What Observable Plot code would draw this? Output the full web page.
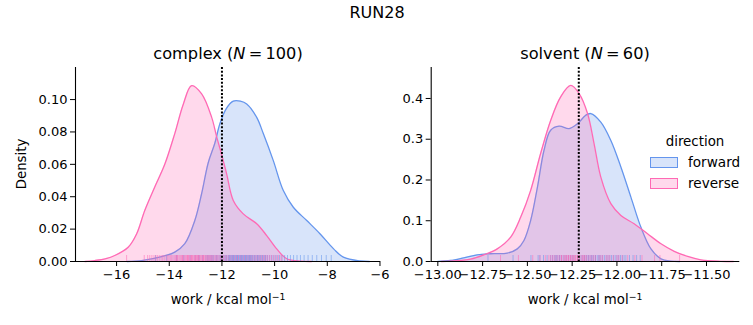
<!DOCTYPE html>
<html><head><meta charset="utf-8">
<script src="https://cdn.jsdelivr.net/npm/d3@7"></script>
<script src="https://cdn.jsdelivr.net/npm/@observablehq/plot@0.6"></script>
<style>
body{margin:0;background:#fff;font-family:"DejaVu Sans",sans-serif;color:#000;}
#root{position:relative;width:753px;height:325px;overflow:hidden;background:#fff;}
.t{position:absolute;white-space:nowrap;line-height:1;}
#root svg{position:absolute;top:0;overflow:visible;}
.patch{position:absolute;box-sizing:border-box;}
</style></head><body><div id="root"></div>
<script>
// ---------------- data ----------------
const suptitle = "RUN28";
const directions = ["forward", "reverse"];

// complex: KDE curves
const complexForwardX = [-15.6,-15.05,-14.29,-13.79,-13.41,-13.03,-12.77,-12.52,-12.27,-12.08,-11.85,-11.57,-11.3,-11.06,-10.68,-10.43,-10.05,-9.67,-9.29,-8.78,-8.27,-7.76,-7.39,-6.75,-6.4];
const complexForwardY = [0,0.0006,0.003,0.0058,0.011,0.0253,0.042,0.061,0.073,0.085,0.094,0.099,0.099,0.0973,0.089,0.079,0.0623,0.0438,0.0335,0.0253,0.017,0.0078,0.0027,0.0003,0];
const complexReverseX = [-17.2,-16.83,-16.4,-16.07,-15.56,-15.24,-14.93,-14.55,-14.17,-13.79,-13.47,-13.15,-12.77,-12.39,-12.2,-12.01,-11.82,-11.57,-11.19,-10.68,-10.3,-9.92,-9.54,-9.0,-8.6];
const complexReverseY = [0,0.0006,0.0018,0.0037,0.0088,0.017,0.0315,0.046,0.06,0.079,0.097,0.1086,0.1035,0.089,0.077,0.066,0.054,0.0377,0.0294,0.0233,0.016,0.0078,0.0017,0.0002,0];

// solvent: KDE curves
const solventForwardX = [-13.0,-12.929,-12.855,-12.78,-12.705,-12.612,-12.556,-12.519,-12.482,-12.444,-12.407,-12.37,-12.323,-12.267,-12.22,-12.174,-12.146,-12.09,-12.034,-11.978,-11.922,-11.866,-11.81,-11.754,-11.7,-11.65];
const solventForwardY = [0,0.0025,0.009,0.0164,0.019,0.0205,0.031,0.0516,0.1,0.182,0.273,0.322,0.332,0.326,0.338,0.359,0.363,0.342,0.297,0.232,0.158,0.084,0.031,0.0066,0.001,0];
const solventReverseX = [-12.98,-12.929,-12.817,-12.743,-12.668,-12.593,-12.537,-12.482,-12.426,-12.37,-12.314,-12.258,-12.211,-12.164,-12.128,-12.09,-12.034,-11.978,-11.904,-11.829,-11.754,-11.68,-11.605,-11.531,-11.42,-11.35];
const solventReverseY = [0,0.001,0.006,0.0164,0.031,0.06,0.109,0.174,0.265,0.346,0.404,0.432,0.412,0.363,0.29,0.207,0.142,0.113,0.0926,0.068,0.0435,0.025,0.0123,0.004,0.0005,0];

// rug samples (estimated)
const complexForwardWork = [-14.52,-14.10,-13.72,-13.45,-13.21,-13.02,-12.86,-12.73,-12.61,-12.50,
-12.40,-12.31,-12.23,-12.15,-12.08,-12.01,-11.95,-11.89,-11.83,-11.77,
-11.71,-11.66,-11.61,-11.56,-11.51,-11.46,-11.41,-11.36,-11.31,-11.26,
-11.21,-11.16,-11.11,-11.06,-11.01,-10.96,-10.91,-10.86,-10.81,-10.76,
-10.71,-10.66,-10.61,-10.56,-10.51,-10.45,-10.39,-10.33,-10.27,-10.20,
-10.13,-10.06,-9.98,-9.90,-9.81,-9.72,-9.62,-9.51,-9.40,-9.28,
-9.15,-9.02,-8.88,-8.73,-8.57,-8.40,-8.22,-8.04,-7.85,-11.45,
-11.35,-11.25,-11.15,-11.05,-10.95,-11.55,-11.65,-11.75,-11.85,-12.05,
-12.2,-12.35,-10.85,-10.75,-10.65,-10.55,-10.45,-10.35,-11.3,-11.2,
-11.1,-11.0,-10.9,-11.4,-11.5,-11.6,-11.7,-12.45,-12.55,-12.9];
const complexReverseWork = [-15.62,-14.95,-14.82,-14.74,-14.66,-14.58,-14.51,-14.45,-14.38,-14.31,
-14.25,-14.19,-14.12,-14.06,-14.01,-13.96,-13.91,-13.86,-13.81,-13.76,
-13.72,-13.68,-13.63,-13.59,-13.55,-13.51,-13.47,-13.43,-13.39,-13.35,
-13.31,-13.27,-13.24,-13.20,-13.17,-13.13,-13.10,-13.06,-13.03,-12.99,
-12.96,-12.92,-12.89,-12.85,-12.82,-12.78,-12.74,-12.71,-12.67,-12.63,
-12.59,-12.55,-12.51,-12.47,-12.43,-12.39,-12.35,-12.30,-12.26,-12.21,
-12.16,-12.11,-12.06,-12.01,-11.95,-11.89,-11.83,-11.76,-11.69,-11.61,
-11.53,-11.45,-11.37,-11.28,-11.19,-11.10,-11.01,-10.93,-10.85,-10.77,
-10.70,-10.63,-10.56,-10.49,-10.42,-10.35,-10.28,-10.20,-10.12,-10.03,
-9.94,-9.85,-9.75,-13.0,-13.3,-13.5,-12.9,-13.15,-12.7,-13.7];
const solventForwardWork = [-12.72,-12.58,-12.48,-12.44,-12.41,-12.39,-12.37,-12.35,-12.34,-12.33,
-12.32,-12.31,-12.30,-12.29,-12.28,-12.26,-12.24,-12.22,-12.21,-12.20,
-12.19,-12.18,-12.17,-12.16,-12.15,-12.14,-12.13,-12.12,-12.11,-12.10,
-12.09,-12.08,-12.07,-12.06,-12.05,-12.04,-12.03,-12.02,-12.01,-12.00,
-11.99,-11.98,-11.97,-11.96,-11.95,-11.93,-11.91,-11.89,-11.87,-12.36,
-12.34,-12.32,-12.27,-12.25,-12.18,-12.16,-12.14,-12.12,-12.10,-12.43];
const solventReverseWork = [-12.65,-12.55,-12.47,-12.43,-12.40,-12.38,-12.36,-12.34,-12.32,-12.31,
-12.30,-12.29,-12.28,-12.27,-12.26,-12.25,-12.24,-12.23,-12.22,-12.21,
-12.20,-12.19,-12.18,-12.17,-12.16,-12.15,-12.14,-12.12,-12.10,-12.08,
-12.06,-12.04,-12.02,-12.00,-11.97,-11.94,-11.90,-11.86,-11.79,-11.76,
-11.65,-12.33,-12.29,-12.27,-12.25,-12.24,-12.22,-12.21,-12.28,-12.26,
-12.23,-12.19,-12.35,-12.37,-12.31,-12.18,-12.13,-12.09,-12.05,-11.99];

const complexMean = -12.0;
const solventMean = -12.213;

const complexXTicks = [-16,-14,-12,-10,-8,-6];
const complexYTicks = [0,0.02,0.04,0.06,0.08,0.10];
const solventXTicks = [-13.00,-12.75,-12.50,-12.25,-12.00,-11.75,-11.50];
const solventYTicks = [0,0.1,0.2,0.3,0.4];

// ---------------- drawing ----------------
const BLUE = "#6495ED", PINK = "#FF69B4";
const root = document.getElementById("root");
const FONT = "DejaVu Sans";
const CURVE = "catmull-rom";

function addText(txt, left, top, size, opts = {}) {
  const d = document.createElement("div");
  d.className = "t";
  d.innerHTML = txt;
  d.style.fontSize = size + "px";
  d.style.left = left + "px";
  d.style.top = top + "px";
  d.style.transform = opts.transform || "translate(-50%,-50%)";
  root.appendChild(d);
  return d;
}

function panel(o) {
  const fwd = o.fx.map((x, i) => ({x, y: o.fy[i]}));
  const rev = o.rx.map((x, i) => ({x, y: o.ry[i]}));
  const frameH = 325 - 67 - 64;
  const svg = Plot.plot({
    width: o.width, height: 325,
    marginTop: 67, marginBottom: 64, marginLeft: o.mL, marginRight: o.mR,
    x: {domain: o.xDomain},
    y: {domain: o.yDomain},
    style: {fontFamily: FONT, fontSize: "13px", background: "transparent", color: "#000", overflow: "visible"},
    marks: [
      Plot.areaY(fwd, {x: "x", y: "y", fill: BLUE, fillOpacity: 0.25, curve: CURVE}),
      Plot.lineY(fwd, {x: "x", y: "y", stroke: BLUE, strokeWidth: 1.3, curve: CURVE}),
      Plot.areaY(rev, {x: "x", y: "y", fill: PINK, fillOpacity: 0.25, curve: CURVE}),
      Plot.lineY(rev, {x: "x", y: "y", stroke: PINK, strokeWidth: 1.3, curve: CURVE}),
      Plot.tickX(o.fs, {x: d => d, stroke: BLUE, strokeOpacity: 0.55, strokeWidth: 1, insetTop: frameH - 6}),
      Plot.tickX(o.rs, {x: d => d, stroke: PINK, strokeOpacity: 0.55, strokeWidth: 1, insetTop: frameH - 6}),
      Plot.ruleX([o.vline], {stroke: "#000", strokeWidth: 2, strokeDasharray: "2,1.7"}),
      Plot.ruleX([o.xDomain[0]], {stroke: "#000", strokeWidth: 1.1}),
      Plot.ruleY([0], {stroke: "#000", strokeWidth: 1.1}),
      Plot.axisX({ticks: o.xTicks, tickFormat: o.xFmt, tickSize: 5, tickPadding: 3, label: null}),
      Plot.axisY({ticks: o.yTicks, tickFormat: o.yFmt, tickSize: 5, tickPadding: 3, label: null})
    ]
  });
  svg.style.left = o.left + "px";
  root.appendChild(svg);
}

panel({
  fx: complexForwardX, fy: complexForwardY, rx: complexReverseX, ry: complexReverseY,
  fs: complexForwardWork, rs: complexReverseWork,
  xDomain: [-17.56, -5.98], yDomain: [0, 0.1198],
  xTicks: complexXTicks, yTicks: complexYTicks,
  xFmt: d3.format(".0f"), yFmt: d3.format(".2f"),
  vline: complexMean, width: 395, left: 0, mL: 75, mR: 15
});
panel({
  fx: solventForwardX, fy: solventForwardY, rx: solventReverseX, ry: solventReverseY,
  fs: solventForwardWork, rs: solventReverseWork,
  xDomain: [-13.037, -11.314], yDomain: [0, 0.476],
  xTicks: solventXTicks, yTicks: solventYTicks,
  xFmt: d3.format(".2f"), yFmt: d3.format(".1f"),
  vline: solventMean, width: 373, left: 380, mL: 50.7, mR: 13.7
});

// titles and labels
addText(suptitle, 377, 13, 16);
addText("complex (<i>N</i>&#8201;=&#8201;100)", 228, 54, 16.2);
addText("solvent (<i>N</i>&#8201;=&#8201;60)", 585, 54, 16.2);
addText("work / kcal mol<sup style=\"font-size:0.7em;vertical-align:0.45em;line-height:0\">−1</sup>", 228, 300, 13.3);
addText("work / kcal mol<sup style=\"font-size:0.7em;vertical-align:0.45em;line-height:0\">−1</sup>", 585, 300, 13.3);
addText("Density", 22, 164, 13.3, {transform: "translate(-50%,-50%) rotate(-90deg)"});

// legend
addText("direction", 695, 142, 13.4);
const legendColors = [BLUE, PINK];
directions.forEach((name, i) => {
  const top = 157 + i * 21;
  const p = document.createElement("div");
  p.className = "patch";
  p.style.left = "650px"; p.style.top = top + "px";
  p.style.width = "28px"; p.style.height = "11px";
  p.style.border = "1.2px solid " + legendColors[i];
  p.style.background = d3.color(legendColors[i]).copy({opacity: 0.25}).toString();
  root.appendChild(p);
  addText(name, 688, top + 5.5, 13.6, {transform: "translate(0,-50%)"});
});
</script></body></html>
